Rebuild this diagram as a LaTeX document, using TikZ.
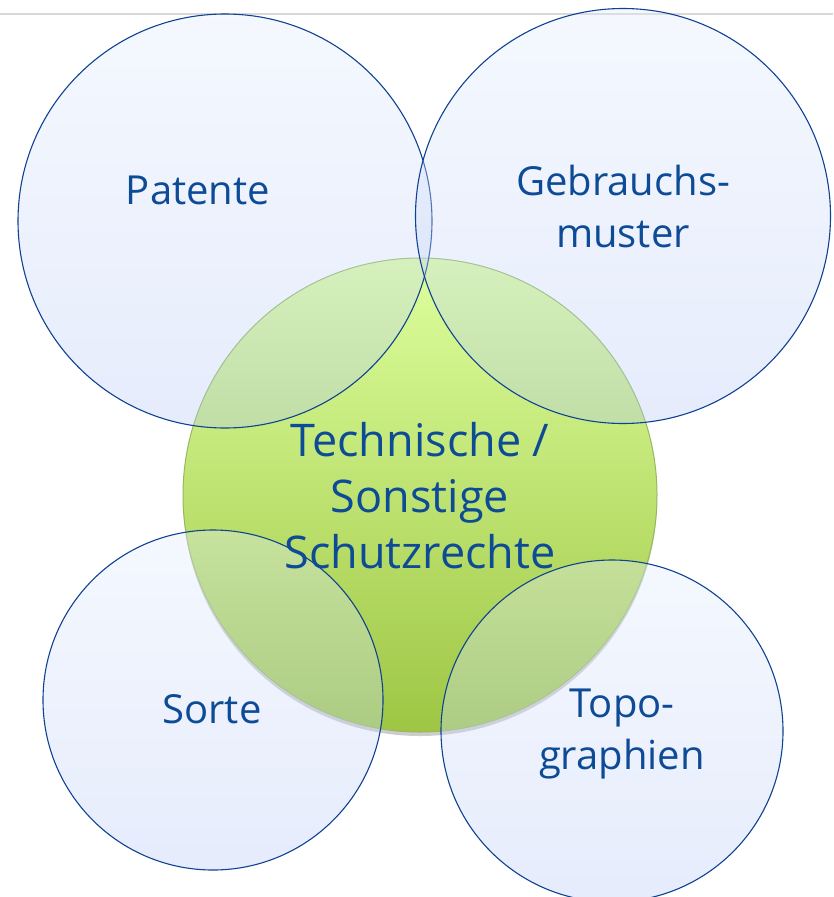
\documentclass[tikz,border=0pt]{standalone}
\usepackage{fontspec}
\setmainfont{Open Sans}
\usetikzlibrary{positioning}
\definecolor{txtblue}{RGB}{14,75,150}
\definecolor{lineblue}{RGB}{16,66,146}
\definecolor{bluetop}{RGB}{225,235,252}
\definecolor{bluebot}{RGB}{182,200,245}
\definecolor{greentop}{RGB}{222,255,158}
\definecolor{greenbot}{RGB}{158,198,68}
\definecolor{greenline}{RGB}{150,185,95}
\tikzset{
  bluecirc/.style={circle,draw=lineblue,line width=1.1pt,top color=bluetop,bottom color=bluebot,fill opacity=0.35,inner sep=0pt},
  greencirc/.style={circle,draw=greenline,line width=1pt,top color=greentop,bottom color=greenbot,inner sep=0pt},
  lbl/.style={text=txtblue,align=center,font=\fontsize{40}{52}\selectfont},
  biglbl/.style={text=txtblue,align=center,font=\fontsize{45}{56}\selectfont}
}

\begin{document}
\begin{tikzpicture}[x=1pt,y=-1pt]
\useasboundingbox (0,0) rectangle (833,897);
\draw[black!15,line width=1.5pt] (0,14) -- (833,14);

% centre circle with its shadow
\fill[black!25,opacity=0.8] (420,499) circle (237);
\node[greencirc,minimum size=474] (tech) at (420,495) {};

% outer circles
\node[bluecirc,minimum size=414] (pat) at (225,221) {};
\node[bluecirc,minimum size=415] (geb) at (623,216) {};
\node[bluecirc,minimum size=340] (sor) at (213,700) {};
\node[bluecirc,minimum size=342] (top) at (612,731) {};

% labels
\node[lbl] (patL) at (198,190) {Patente};
\node[lbl] (gebL) at (623,206) {Gebrauchs-\\muster};
\node[biglbl] (techL) at (420,496) {Technische /\\Sonstige\\Schutzrechte};
\node[lbl] (sorL) at (212,709) {Sorte};
\node[lbl] (topL) at (622,734) {Topo-\\graphien};
\end{tikzpicture}
\end{document}
